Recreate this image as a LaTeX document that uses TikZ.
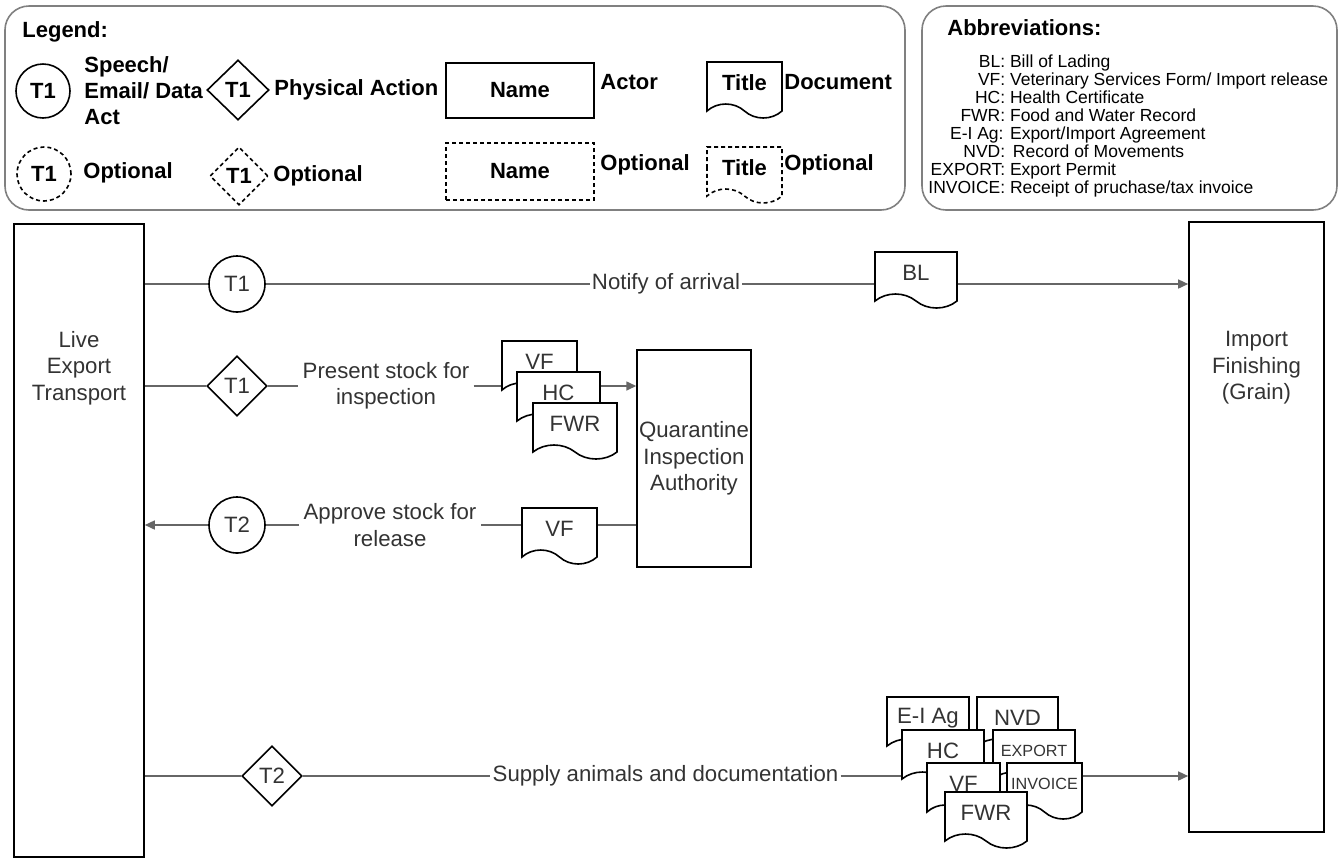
\documentclass[tikz,border=0pt]{standalone}
\usepackage{fontspec}
\setmainfont{Liberation Sans}
\usepackage{tikz}
\usetikzlibrary{calc, positioning, arrows.meta, shapes.geometric, shapes.symbols}
\definecolor{inkGrey}{HTML}{333333}
\definecolor{lineGrey}{HTML}{666666}
\definecolor{frameGrey}{HTML}{808080}
\tikzset{
  base/.style   = {draw=black, line width=0.8pt, fill=white, inner sep=1pt, align=center,
                   font=\fontsize{11.1}{13.2}\selectfont, text=inkGrey},
  actor/.style  = {base, rectangle},
  speech/.style = {base, circle, minimum size=28pt},
  phys/.style   = {base, diamond, aspect=1, minimum width=30pt, minimum height=30pt, inner sep=0pt},
  docu/.style   = {base, tape, tape bend top=none, tape bend bottom=out and in,
                   tape bend height=7pt, minimum height=28pt},
  opt/.style    = {dash pattern=on 2pt off 1.5pt},
  small/.style  = {font=\fontsize{8.1}{9.7}\selectfont},
  legtxt/.style = {font=\fontsize{11}{13}\selectfont\bfseries, text=black},
  legside/.style= {legtxt, anchor=west, inner sep=0pt},
  frame/.style  = {draw=frameGrey, line width=0.8pt, rounded corners=12pt},
  lbl/.style    = {font=\fontsize{11.1}{13.2}\selectfont, text=inkGrey, align=center, inner sep=1pt},
  fl/.style     = {draw=lineGrey, line width=0.75pt},
  fla/.style    = {fl, -{Triangle[length=5pt, width=4.5pt]}}
}

\begin{document}
\begin{tikzpicture}[x=0.5pt, y=-0.5pt]
  \useasboundingbox (0,0) rectangle (1341,859);

  % --- legend (top left)
  \node[frame, minimum width=450pt, minimum height=102pt] (legend) at (455,108) {};
  \node[legside] (legtitle) at (22,32) {Legend:};
  \node[speech, legtxt, minimum size=27pt] (lgspeech) at (43,91) {T1};
  \node[legside, align=left] (lgspeechtxt) at (84,91) {Speech/\\Email/ Data\\Act};
  \node[phys, legtxt, minimum width=31pt, minimum height=30pt] (lgphys) at (238,90) {T1};
  \node[legside] (lgphystxt) at (274,90) {Physical Action};
  \node[actor, legtxt, minimum width=74pt, minimum height=27.5pt] (lgactor) at (520,90.5) {Name};
  \node[legside] (lgactortxt) at (600,82) {Actor};
  \node[docu, legtxt, minimum width=37.5pt] (lgdoc) at (744.5,83) {Title};
  \node[legside] (lgdoctxt) at (784,82) {Document};
  \node[speech, opt, legtxt, minimum size=27pt] (lgspeecho) at (44,174) {T1};
  \node[legside] (lgspeechotxt) at (83,173) {Optional};
  \node[phys, opt, legtxt, minimum width=29pt, minimum height=29pt] (lgphyso) at (239,176) {T1};
  \node[legside] (lgphysotxt) at (273,176) {Optional};
  \node[actor, opt, legtxt, minimum width=74pt, minimum height=28.5pt] (lgactoro) at (520,171.5) {Name};
  \node[legside] (lgactorotxt) at (600,165) {Optional};
  \node[docu, opt, legtxt, minimum width=37.5pt] (lgdoco) at (744.5,168) {Title};
  \node[legside] (lgdocotxt) at (784,165) {Optional};

  % --- abbreviations (top right)
  \node[frame, minimum width=207.5pt, minimum height=102pt] (abbrev) at (1129.5,108) {};
  \node[legside] (abbtitle) at (947,28) {Abbreviations:};
  \node[anchor=north west, inner sep=0pt, font=\fontsize{8.75}{9}\selectfont] (abblist) at (928,54) {%
    \begin{tabular}{@{}r@{: }l@{}}
      BL & Bill of Lading\\
      VF & Veterinary Services Form/ Import release\\
      HC & Health Certificate\\
      FWR & Food and Water Record\\
      E-I Ag & Export/Import Agreement\\
      NVD & \,Record of Movements\\
      EXPORT & Export Permit\\
      INVOICE & Receipt of pruchase/tax invoice
    \end{tabular}};

  % --- actors
  \node[actor, minimum width=65pt, minimum height=316.5pt] (live) at (79,540.5) {};
  \node[lbl] (livetxt) at (79,368) {Live\\Export\\Transport};
  \node[actor, minimum width=67.5pt, minimum height=305pt] (imp) at (1256.5,527) {};
  \node[lbl] (imptxt) at (1256.5,368) {Import\\Finishing\\(Grain)};
  \node[actor, minimum width=56pt, minimum height=108.5pt] (quar) at (694,458.5)
       {Quarantine\\Inspection\\Authority};

  % --- notify of arrival
  \node[speech] (t1) at (237,284) {T1};
  \node[lbl] (notify) at (666,284) {Notify of arrival};
  \node[docu, minimum width=41pt] (bl) at (916,273) {BL};
  \draw[fl] (live.east |- t1) -- (t1);
  \draw[fl] (t1) -- (notify);
  \draw[fl] (notify) -- (bl.west |- notify);
  \draw[fla] (bl.east |- notify) -- (imp.west |- notify);

  % --- present stock
  \node[phys] (t1b) at (237,386) {T1};
  \node[lbl, inner sep=2pt] (present) at (386,386) {Present stock for\\inspection};
  \node[docu, minimum width=37.5pt] (vf1) at (539.5,362) {VF};
  \node[docu, minimum width=41.5pt] (hc1) at (558.5,393) {HC};
  \node[docu, minimum width=42pt] (fwr1) at (575,424) {FWR};
  \draw[fl] (live.east |- t1b) -- (t1b);
  \draw[fl] (t1b) -- (present);
  \draw[fl] (present) -- (vf1.west |- present);
  \draw[fla] (hc1.east |- present) -- (quar.west |- present);

  % --- approve stock
  \node[speech] (t2) at (237,525) {T2};
  \node[lbl, inner sep=2pt] (approve) at (390,525) {Approve stock for\\release};
  \node[docu, minimum width=37.5pt] (vf2) at (559.5,529) {VF};
  \draw[fl] (quar.west |- t2) -- (vf2.east |- t2);
  \draw[fl] (vf2.west |- t2) -- (approve);
  \draw[fl] (approve) -- (t2);
  \draw[fla] (t2) -- (live.east |- t2);

  % --- supply animals
  \node[phys] (t2b) at (272,776) {T2};
  \node[lbl] (supply) at (665.5,776) {Supply animals and documentation};
  \node[docu, minimum width=41pt] (eiag) at (928,718) {E-I Ag};
  \node[docu, minimum width=40.5pt] (nvd) at (1017.5,718) {NVD};
  \node[docu, minimum width=41pt] (hc2) at (943,751) {HC};
  \node[docu, small, minimum width=41pt] (export) at (1034,751) {EXPORT};
  \node[docu, minimum width=36.5pt] (vf3) at (963.5,784) {VF};
  \node[docu, small, minimum width=37.5pt] (invoice) at (1044.5,784) {INVOICE};
  \node[docu, minimum width=41pt] (fwr2) at (986,813) {FWR};
  \draw[fl] (live.east |- t2b) -- (t2b);
  \draw[fl] (t2b) -- (supply);
  \draw[fl] (supply) -- (hc2.west |- supply);
  \draw[fla] (invoice.east |- supply) -- (imp.west |- supply);
\end{tikzpicture}
\end{document}
